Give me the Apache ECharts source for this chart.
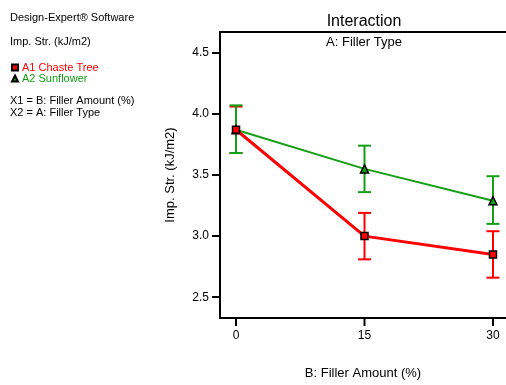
<!DOCTYPE html>
<html>
<head>
<meta charset="utf-8">
<script src="https://cdn.jsdelivr.net/npm/echarts@6/dist/echarts.min.js"></script>
<style>
  html, body { margin: 0; padding: 0; background: #fff; }
  #main { width: 506px; height: 385px; }
</style>
</head>
<body>
<div id="main"></div>
<script>
// filler amount (%)
const amounts = [0, 15, 30]
const xTicks = [0, 15, 30]
const yTicks = [2.5, 3.0, 3.5, 4.0, 4.5]

// A1 Chaste Tree
const chasteMean = [3.87, 3.00, 2.85]
const chasteLow = [3.68, 2.81, 2.66]
const chasteHigh = [4.06, 3.19, 3.04]

// A2 Sunflower
const sunMean = [3.87, 3.55, 3.29]
const sunLow = [3.68, 3.36, 3.10]
const sunHigh = [4.07, 3.74, 3.49]

const X_MIN = -1.87, X_MAX = 31.52
const Y_MIN = 2.33, Y_MAX = 4.67

const RED = '#ff0000'
const GREEN = '#14a014'
const FONT = '"Liberation Sans", Arial, sans-serif'

const chart = echarts.init(document.getElementById('main'))

const errBar = (color, width) => (params, api) => {
    const x = api.value(0)
    const lo = api.coord([x, api.value(1)])
    const hi = api.coord([x, api.value(2)])
    const half = 6.5
    const style = { stroke: color, lineWidth: width }
    return {
        type: 'group',
        children: [
            { type: 'line', shape: { x1: lo[0], y1: lo[1], x2: hi[0], y2: hi[1] }, style },
            { type: 'line', shape: { x1: lo[0] - half, y1: lo[1], x2: lo[0] + half, y2: lo[1] }, style },
            { type: 'line', shape: { x1: hi[0] - half, y1: hi[1], x2: hi[0] + half, y2: hi[1] }, style }
        ]
    }
}

// bottom tick marks (the axis ticks did not show up on the x axis)
const xTickMark = (params, api) => {
    const p = api.coord([api.value(0), Y_MIN])
    return {
        type: 'line',
        shape: { x1: p[0], y1: p[1], x2: p[0], y2: p[1] + 8 },
        style: { stroke: '#000', lineWidth: 2 }
    }
}

const option = {
    animation: false,
    textStyle: { fontFamily: FONT },
    grid: { left: 220, top: 32, right: 0, bottom: 63 },
    graphic: [
        { type: 'text', left: 10, top: 12, style: { text: 'Design-Expert® Software', fill: '#000', font: '11px ' + FONT } },
        { type: 'text', left: 10, top: 36, style: { text: 'Imp. Str. (kJ/m2)', fill: '#000', font: '11px ' + FONT } },
        { type: 'text', left: 10, top: 95, style: { text: 'X1 = B: Filler Amount (%)', fill: '#000', font: '11px ' + FONT } },
        { type: 'text', left: 10, top: 107, style: { text: 'X2 = A: Filler Type', fill: '#000', font: '11px ' + FONT } },
        { type: 'text', x: 364, y: 14, style: { text: 'Interaction', fill: '#000', font: '16px ' + FONT, textAlign: 'center' } },
        { type: 'text', x: 364, y: 36, style: { text: 'A: Filler Type', fill: '#000', font: '13px ' + FONT, textAlign: 'center' } }
    ],
    legend: {
        orient: 'vertical',
        left: 6,
        top: 57,
        itemGap: 0,
        itemWidth: 6,
        itemHeight: 6,
        textStyle: { fontSize: 11, fontFamily: FONT, padding: [0, 0, 0, -1] },
        data: [
            { name: 'A1 Chaste Tree', icon: 'rect', textStyle: { color: RED } },
            { name: 'A2 Sunflower', icon: 'triangle', textStyle: { color: GREEN } }
        ]
    },
    xAxis: [{
        type: 'value',
        min: X_MIN,
        max: X_MAX,
        name: 'B: Filler Amount (%)',
        nameLocation: 'middle',
        nameGap: 49,
        nameTextStyle: { fontSize: 13, color: '#000' },
        splitLine: { show: false },
        axisLine: { onZero: false, lineStyle: { color: '#000', width: 2 } },
        axisTick: { show: false },
        axisLabel: { fontSize: 12, color: '#000', margin: 12, customValues: xTicks }
    }, {
        type: 'value',
        position: 'top',
        min: X_MIN,
        max: X_MAX,
        splitLine: { show: false },
        axisLine: { onZero: false, lineStyle: { color: '#000', width: 2 } },
        axisTick: { show: false },
        axisLabel: { show: false }
    }],
    yAxis: {
        type: 'value',
        min: Y_MIN,
        max: Y_MAX,
        name: 'Imp. Str. (kJ/m2)',
        nameLocation: 'middle',
        nameGap: 43,
        nameTextStyle: { fontSize: 13, color: '#000' },
        splitLine: { show: false },
        axisLine: { show: true, onZero: false, lineStyle: { color: '#000', width: 2 } },
        axisTick: { show: true, length: 8, lineStyle: { color: '#000', width: 2 }, customValues: yTicks },
        axisLabel: {
            fontSize: 12, color: '#000', margin: 11, customValues: yTicks,
            formatter: v => v.toFixed(1)
        }
    },
    series: [
        {
            type: 'custom',
            name: 'xTicks',
            renderItem: xTickMark,
            clip: false,
            encode: { x: 0, y: 1 },
            data: xTicks.map(t => [t, Y_MIN]),
            silent: true,
            z: 1
        },
        {
            type: 'custom',
            name: 'chasteErr',
            renderItem: errBar(RED, 2),
            encode: { x: 0, y: [1, 2] },
            data: amounts.map((a, i) => [a, chasteLow[i], chasteHigh[i]]),
            z: 2
        },
        {
            type: 'custom',
            name: 'sunErr',
            renderItem: errBar(GREEN, 2),
            encode: { x: 0, y: [1, 2] },
            data: amounts.map((a, i) => [a, sunLow[i], sunHigh[i]]),
            z: 2
        },
        {
            type: 'line',
            name: 'A2 Sunflower',
            data: amounts.map((a, i) => [a, sunMean[i]]),
            symbol: 'triangle',
            symbolSize: 8,
            lineStyle: { color: GREEN, width: 2 },
            itemStyle: { color: GREEN, borderColor: '#000', borderWidth: 1.5 },
            z: 3
        },
        {
            type: 'line',
            name: 'A1 Chaste Tree',
            data: amounts.map((a, i) => [a, chasteMean[i]]),
            symbol: 'rect',
            symbolSize: 7,
            lineStyle: { color: RED, width: 3 },
            itemStyle: { color: RED, borderColor: '#000', borderWidth: 1.5 },
            z: 4
        }
    ]
}

chart.setOption(option)
</script>
</body>
</html>
